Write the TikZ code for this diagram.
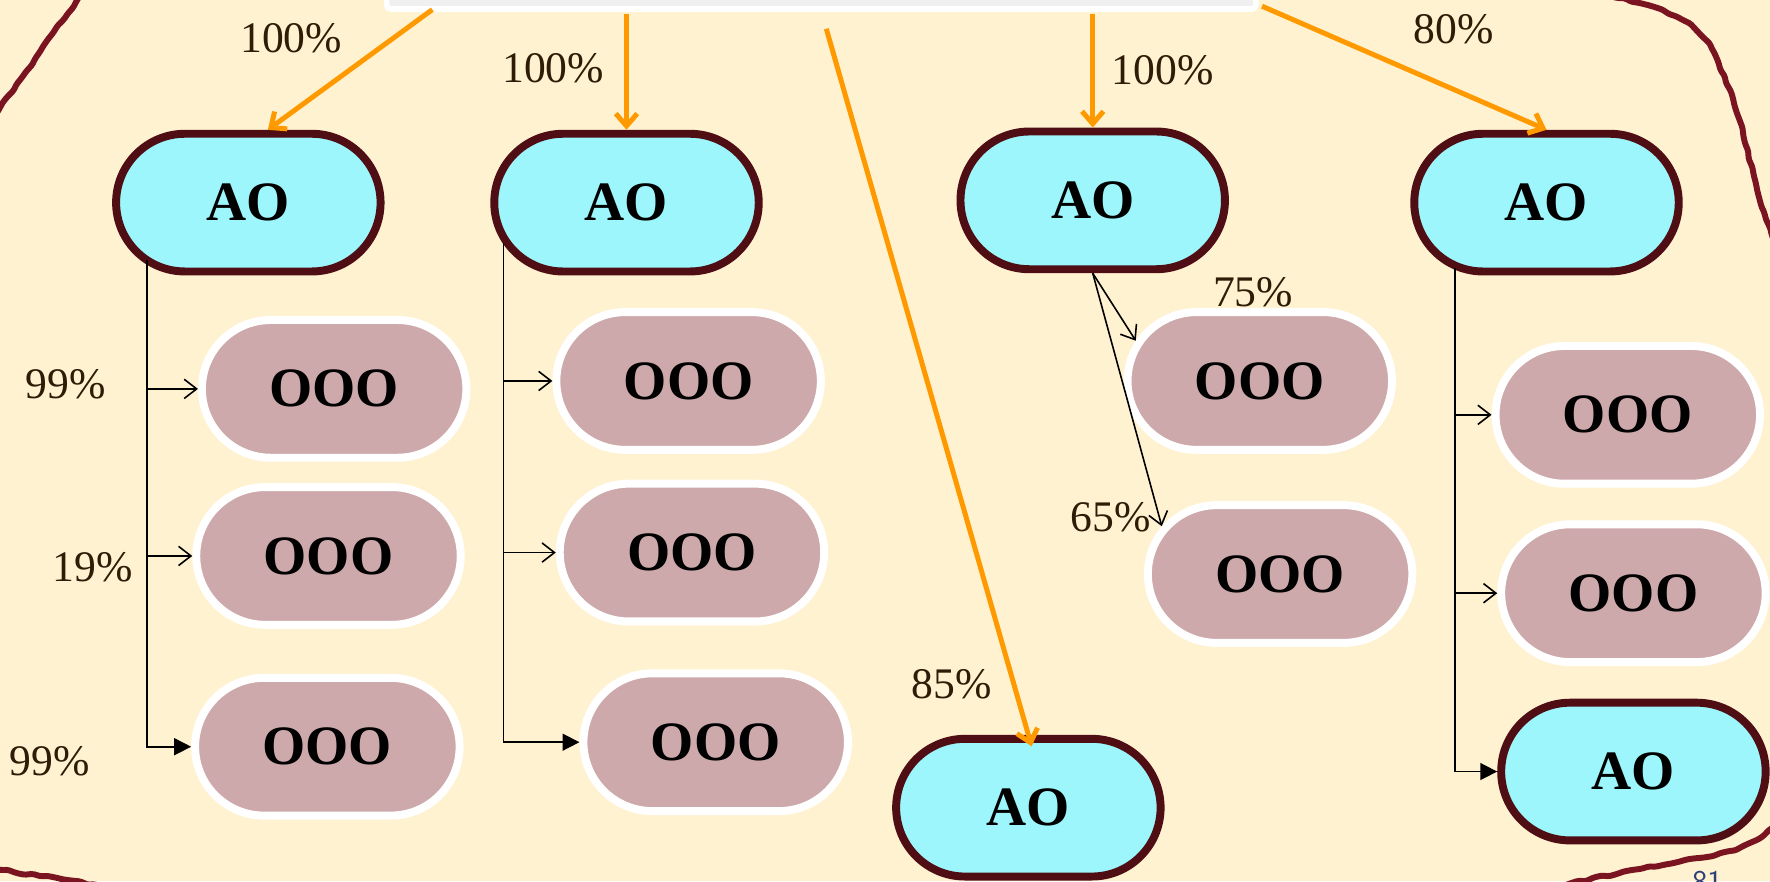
\documentclass[tikz,border=0pt]{standalone}
\usepackage{fontspec}
\setmainfont{Liberation Serif}
\usepackage{tikz}
\usetikzlibrary{arrows.meta,shapes.misc,decorations.pathmorphing}

\definecolor{bgcream}{HTML}{FFF2D1}
\definecolor{aocyan}{HTML}{9CF6FB}
\definecolor{aoedge}{HTML}{4E0E14}
\definecolor{ooopink}{HTML}{CDA9AC}
\definecolor{rimred}{HTML}{7A1420}
\definecolor{flow}{HTML}{FF9900}
\definecolor{pcttext}{HTML}{2E1C07}
\definecolor{boxgray}{HTML}{F0F0F0}
\definecolor{pagenum}{HTML}{2B3F7A}

\tikzset{
  ao/.style={rounded rectangle, draw=aoedge, line width=4pt, fill=aocyan,
    minimum width=4.92cm, minimum height=2.44cm,
    font=\fontsize{28}{30}\selectfont\bfseries},
  ooo/.style={ao, draw=white, fill=ooopink},
  pct/.style={text=pcttext, font=\fontsize{22}{24}\selectfont},
  flowarrow/.style={draw=flow, line width=2.5pt, -{Straight Barb[length=2.2mm,width=3.8mm]}},
  thinarrow/.style={line width=0.8pt, -{Straight Barb[length=2.2mm,width=3.4mm]}},
  fullarrow/.style={line width=0.8pt, -{Triangle[length=3mm,width=3mm]}},
  rim/.style={draw=rimred, line width=3pt, decorate,
    decoration={random steps, segment length=4pt, amplitude=0.6pt}, rounded corners=0.8pt}
}

\begin{document}
\begin{tikzpicture}
\pgfmathsetseed{7}
\fill [bgcream] (0,0) rectangle (31.36,15.61);
\useasboundingbox (0,0) rectangle (31.36,15.61);
\clip (0,0) rectangle (31.36,15.61);

% wavy frame
\draw [rim] (-0.3,13.3) .. controls (0.4,14.2) and (0.9,15.0) .. (1.6,15.9) -- (27.8,15.9)
  .. controls (29.2,15.5) and (29.9,15.4) .. (30.3,14.8)
  .. controls (30.7,14.0) and (30.9,13.2) .. (31.1,12.4)
  .. controls (31.25,11.8) and (31.4,11.4) .. (31.7,10.6) -- (31.7,1.2)
  .. controls (31.3,0.8) and (30.9,0.55) .. (30.2,0.42)
  .. controls (29.2,0.25) and (28.4,0.1) .. (27.2,-0.2) -- (2.4,-0.2)
  .. controls (1.4,0.0) and (0.6,0.1) .. (0,0.2) -- (-0.3,0.3) -- cycle;

\node [draw=white, fill=boxgray, line width=2.8pt, minimum width=15.4cm, minimum height=1cm,
  rounded corners=2pt] (hdr) at (14.55,15.95) {};
\node [text=pagenum, font=\sffamily\fontsize{16}{18}\selectfont, anchor=north] (pgnum) at (30.25,0.3) {81};

% top row
\node [ao] (ao1) at (4.40,12.02) {AO};
\node [ao] (ao2) at (11.10,12.02) {AO};
\node [ao] (ao3) at (19.36,12.06) {AO};
\node [ao] (ao4) at (27.40,12.02) {AO};
\node [ao] (ao5) at (18.22,1.30) {AO};
\node [ao] (ao6) at (28.94,1.94) {AO};

\node [ooo] (o1) at (5.92,8.72) {OOO};
\node [ooo] (o2) at (5.82,5.76) {OOO};
\node [ooo] (o3) at (5.80,2.38) {OOO};
\node [ooo] (o4) at (12.20,8.86) {OOO};
\node [ooo] (o5) at (12.26,5.82) {OOO};
\node [ooo] (o6) at (12.68,2.46) {OOO};
\node [ooo] (o7) at (22.32,8.86) {OOO};
\node [ooo] (o8) at (22.68,5.44) {OOO};
\node [ooo] (o9) at (28.84,8.26) {OOO};
\node [ooo] (o10) at (28.94,5.10) {OOO};

% orange flows from the box
\coordinate (s1) at (7.66,15.44);
\coordinate (s2) at (11.10,15.36);
\coordinate (s3) at (14.64,15.10);
\coordinate (s4) at (19.36,15.36);
\coordinate (s5) at (22.36,15.50);
\draw [flowarrow] (s1) -- (ao1.75);
\draw [flowarrow] (s2) -- (ao2.north);
\draw [flowarrow, shorten >=-6pt] (s3) -- (ao5.north);
\draw [flowarrow] (s4) -- (ao3.north);
\draw [flowarrow] (s5) -- (ao4.north);

\node [pct] (p1) at (5.16,14.94) {100\%};
\node [pct] (p2) at (9.80,14.40) {100\%};
\node [pct] (p3) at (16.86,3.48) {85\%};
\node [pct] (p4) at (20.60,14.36) {100\%};
\node [pct] (p5) at (25.76,15.10) {80\%};

% branches
\coordinate (ta) at (2.60,11.0);
\coordinate (tb) at (8.92,11.3);
\coordinate (td) at (25.78,10.86);
\draw [thinarrow] (ta) |- (o1.west);
\draw [thinarrow] (ta) |- (o2.west);
\draw [fullarrow] (ta) |- (o3.west);
\draw [thinarrow] (tb) |- (o4.west);
\draw [thinarrow] (tb) |- (o5.west);
\draw [fullarrow] (tb) |- (o6.west);
\draw [thinarrow] (ao3.south) -- (o7.162);
\draw [thinarrow] (ao3.south) -- (o8.158);
\draw [thinarrow] (td) |- (o9.west);
\draw [thinarrow] (td) |- (o10.west);
\draw [fullarrow] (td) |- (ao6.west);

\node [pct] (p6) at (1.16,8.80) {99\%};
\node [pct] (p7) at (1.64,5.56) {19\%};
\node [pct] (p8) at (0.88,2.12) {99\%};
\node [pct] (p9) at (22.20,10.44) {75\%};
\node [pct] (p10) at (19.68,6.44) {65\%};
\end{tikzpicture}
\end{document}
